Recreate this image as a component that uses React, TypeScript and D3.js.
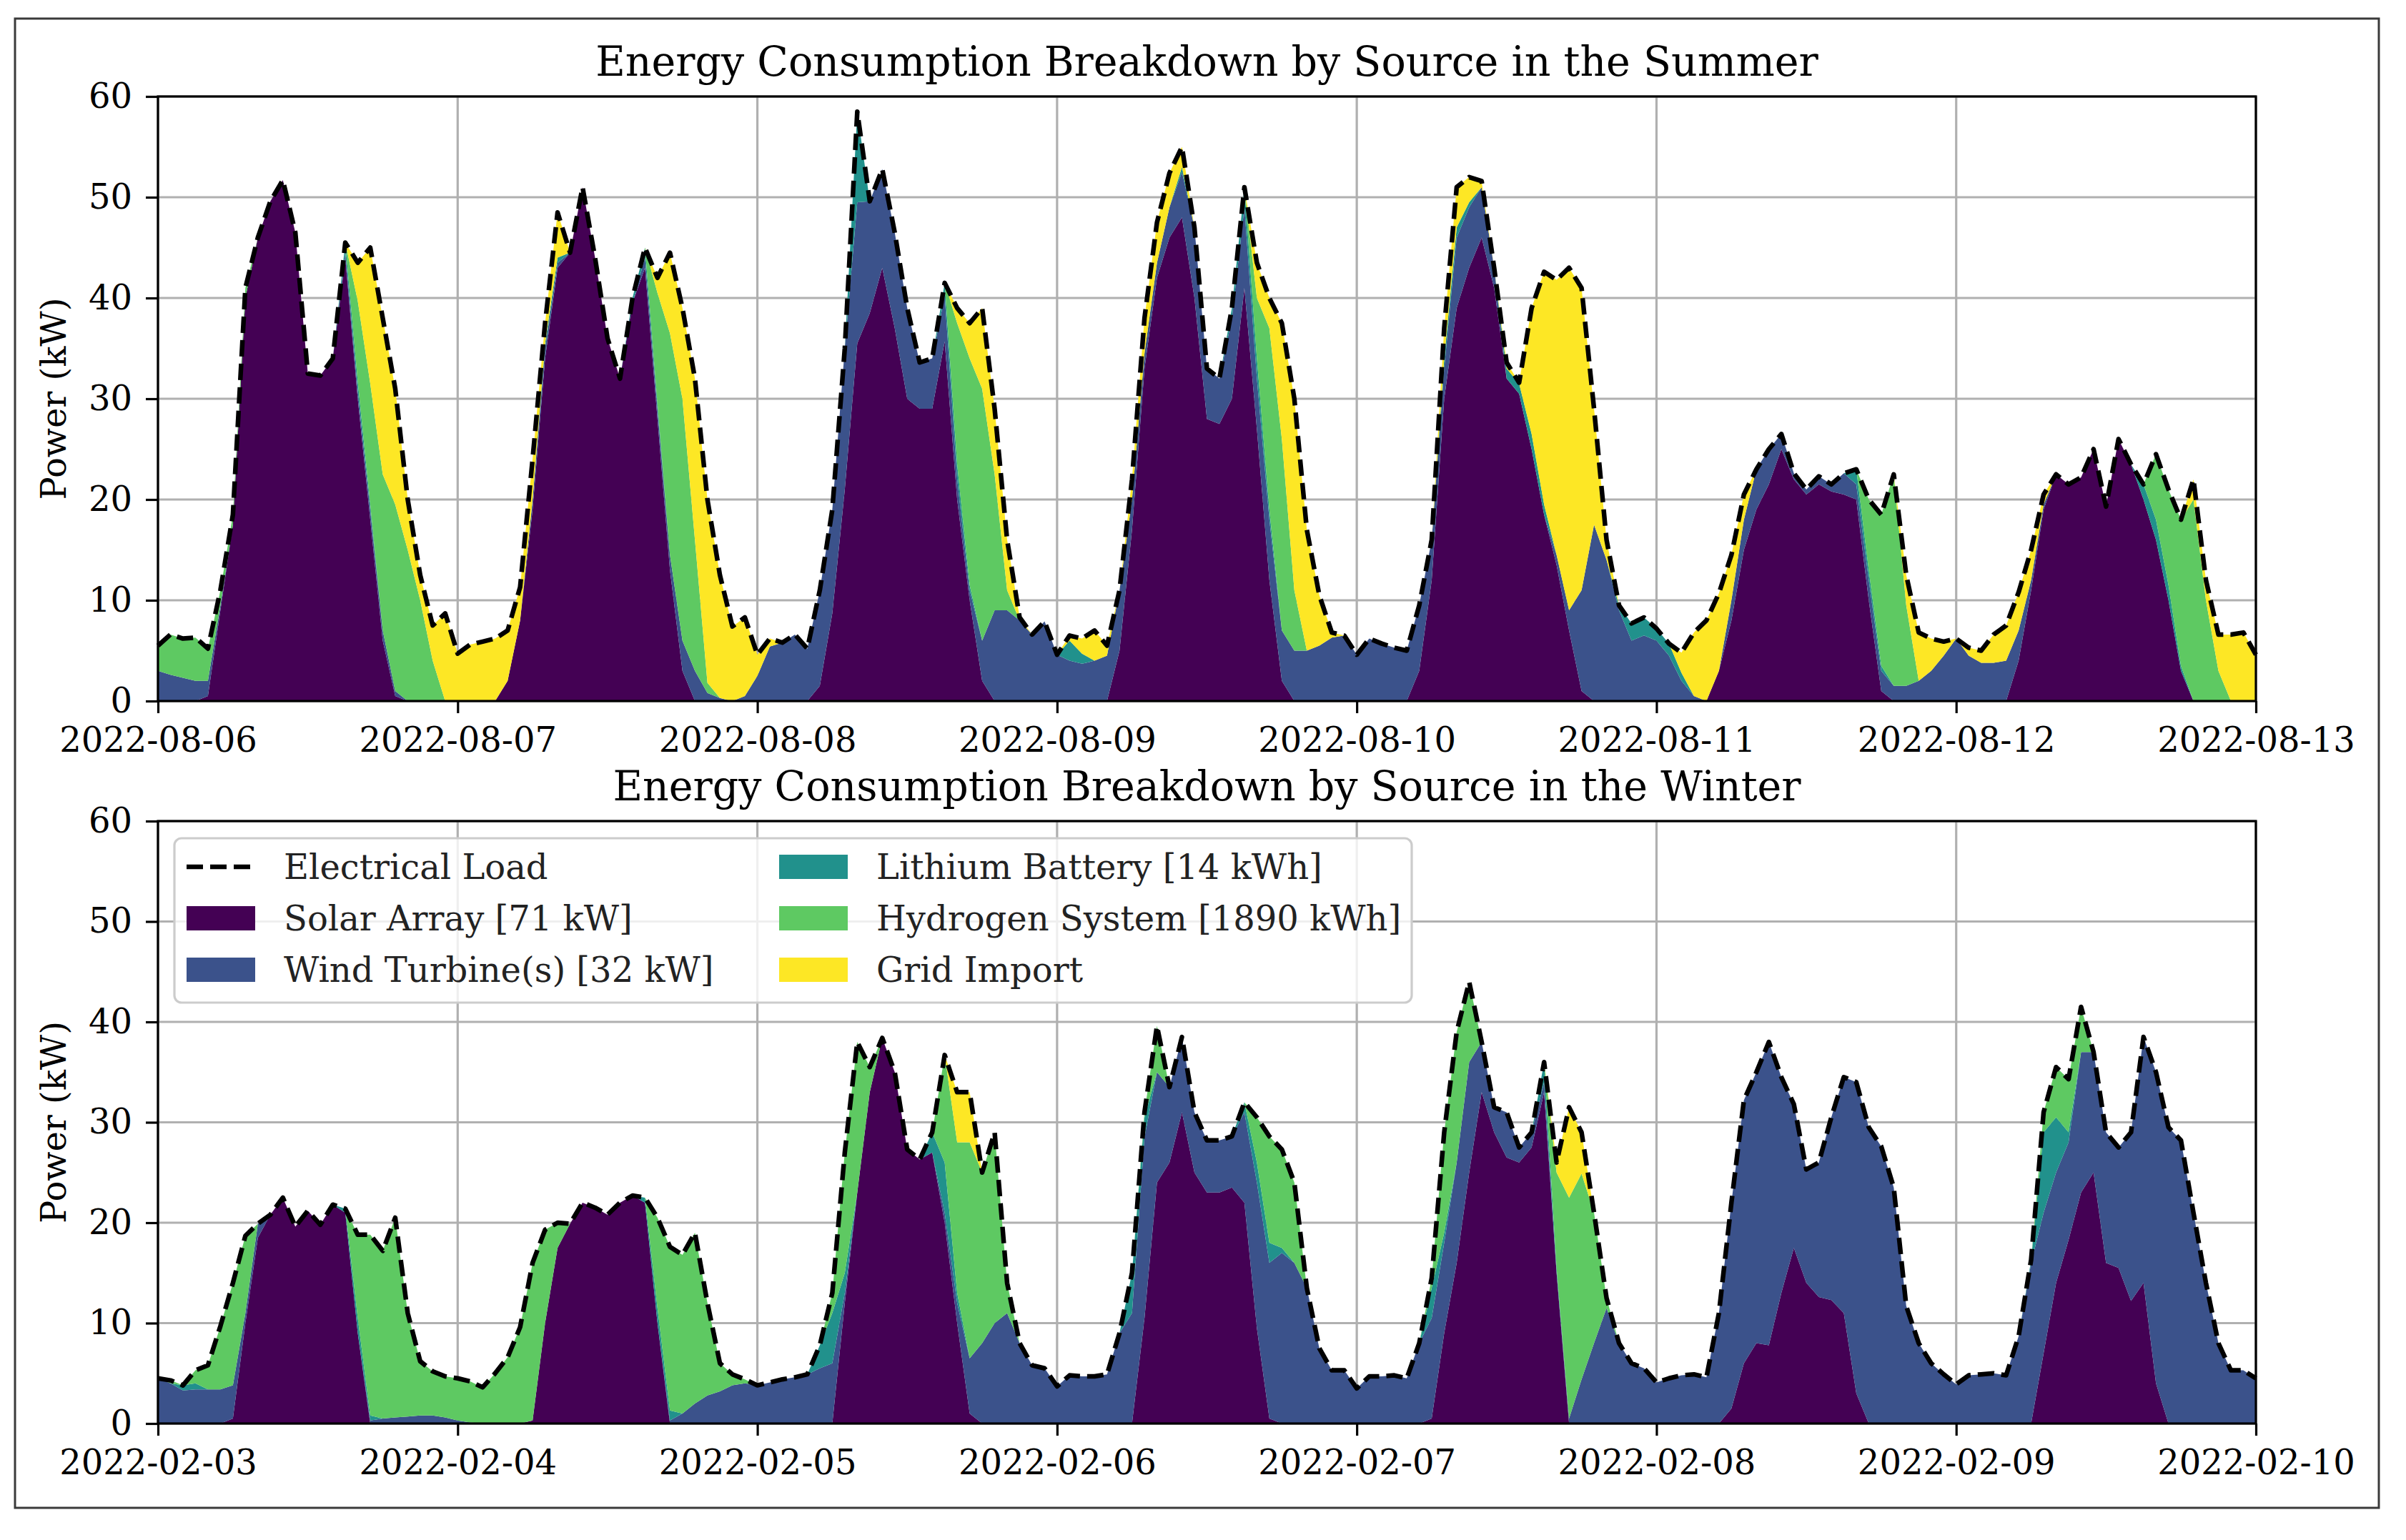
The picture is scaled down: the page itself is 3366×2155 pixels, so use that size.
import * as d3 from "d3";
import { useEffect, useRef } from "react";

// hourly values, one row per day (kW)
const seriesKeys = ["solar", "wind", "battery", "hydrogen", "grid"];
const seriesNames = [
  "Solar Array [71 kW]",
  "Wind Turbine(s) [32 kW]",
  "Lithium Battery [14 kWh]",
  "Hydrogen System [1890 kWh]",
  "Grid Import",
];
const seriesColors = ["#440154", "#3b528b", "#21918c", "#5ec962", "#fde725"];
const yTicks = [0, 10, 20, 30, 40, 50, 60];

const summerStart = "2022-08-06T00:00:00Z";
const winterStart = "2022-02-03T00:00:00Z";

const summerLoad = [
  5.5, 6.6, 6.2, 6.3, 5.2, 11, 18.5, 41, 46, 49.6, 51.7, 46.5, 32.5, 32.3, 34, 45.5, 43.5, 45, 38, 31, 20, 12.5, 7.5, 8.7,
  4.7, 5.6, 5.9, 6.2, 7, 11.3, 24, 37.5, 48.5, 44.5, 51, 44, 36, 32, 40, 45, 42, 44.5, 39, 32, 20, 12.5, 7.4, 8.3,
  4.6, 6.2, 5.8, 6.6, 5.2, 11, 19, 35, 58.5, 49.6, 52.8, 46.5, 39, 33.6, 34, 41.5, 39, 37.5, 39, 29, 16, 8.3, 6.6, 7.9,
  4.6, 6.5, 6.2, 7, 5.5, 11, 22, 38, 47.5, 52.4, 55, 47, 33, 32, 39, 51, 43.5, 40, 37.5, 30, 17, 10.5, 6.8, 6.5,
  4.6, 6.2, 5.7, 5.3, 5, 9.5, 16, 37, 51, 52, 51.6, 43, 33.6, 31.6, 39, 42.6, 41.8, 43, 41, 29, 16, 9.5, 7.7, 8.3,
  7.2, 5.7, 4.8, 6.8, 8, 10.7, 14.5, 20.5, 23, 25, 26.5, 22.6, 21, 22.3, 21.5, 22.6, 23, 20, 18.5, 22.5, 12.5, 6.8, 6.2, 5.9,
  6.2, 5.3, 5, 6.6, 7.5, 10.8, 15, 20.5, 22.5, 21.5, 22.2, 25, 19.3, 26, 23.5, 21.5, 24.5, 21, 18, 22, 12, 6.6, 6.6, 6.8, 4.6,
];
const summerSolar = [
  0, 0, 0, 0, 0.5, 9, 17.5, 40, 46, 49.6, 51.7, 46.5, 32.5, 32.3, 34, 44, 30, 18, 6, 0.5, 0, 0, 0, 0,
  0, 0, 0, 0, 2, 8, 19, 34, 43, 44.5, 51, 44, 36, 32, 39.5, 43, 28, 13, 3, 0, 0, 0, 0, 0,
  0, 0, 0, 0, 0, 1.5, 8.7, 21, 35.5, 38.5, 43, 37, 30, 29, 29, 35.7, 20, 10, 2, 0, 0, 0, 0, 0,
  0, 0, 0, 0, 0, 5, 17, 33, 42, 46, 48, 40, 28, 27.5, 30, 41, 27, 12, 2, 0, 0, 0, 0, 0,
  0, 0, 0, 0, 0, 3, 12, 30, 39, 43, 46, 41, 32, 30.5, 25, 18.5, 13.5, 7, 1, 0, 0, 0, 0, 0,
  0, 0, 0, 0, 0, 3, 8, 15, 19, 21.5, 25, 22, 20.5, 21.5, 20.8, 20.5, 20, 10, 1, 0, 0, 0, 0, 0,
  0, 0, 0, 0, 0, 4, 11, 19, 22.5, 21.5, 22.2, 25, 19.3, 26, 23.5, 20, 16, 10, 3, 0, 0, 0, 0, 0, 0,
];
const summerWind = [
  3, 2.6, 2.3, 2, 1.5, 0.5, 0, 0, 0, 0, 0, 0, 0, 0, 0, 0.5, 0.7, 1, 1, 0.5, 0, 0, 0, 0,
  0, 0, 0, 0, 0, 0, 1, 1, 0.5, 0, 0, 0, 0, 0, 0, 1, 1, 1.5, 3, 3, 0.8, 0.3, 0, 0.5,
  2.5, 5.4, 5.8, 6.6, 5.2, 9.5, 10.3, 14, 14, 11.1, 9.8, 9.5, 9, 4.6, 5, 4.5, 2, 1, 4, 9, 9, 8, 6.6, 7.9,
  4.6, 4, 3.7, 4, 4.5, 6, 3, 1.5, 1.5, 3, 4.5, 7, 5, 4.5, 8, 8, 5, 6, 5, 5, 5, 5.5, 6.3, 6.5,
  4.6, 6.2, 5.7, 5.3, 5, 6.5, 4, 3, 7, 6, 5, 2, 0, 0, 0, 0, 1, 2, 10, 17.5, 14, 9, 6, 6.5,
  6, 4.5, 2, 0.5, 0, 0, 2, 3, 4, 3.5, 1.5, 0.6, 0.5, 0.8, 0.7, 2.1, 1.5, 2, 2, 1.5, 1.5, 2, 3, 4.5,
  6.2, 4.5, 3.8, 3.8, 4, 3, 1, 0.5, 0, 0, 0, 0, 0, 0, 0, 0, 0, 0, 0, 0, 0, 0, 0, 0, 0,
];
const summerBattery = [
  0, 0, 0, 0, 0, 0, 0, 0, 0, 0, 0, 0, 0, 0, 0, 1, 1, 0.5, 0, 0, 0, 0, 0, 0,
  0, 0, 0, 0, 0, 0, 0, 0.5, 0.5, 0, 0, 0, 0, 0, 0.5, 1, 0.5, 0, 0, 0, 0, 0, 0, 0,
  0, 0, 0, 0, 0, 0, 0, 0, 9, 0, 0, 0, 0, 0, 0, 1.3, 1.5, 0.5, 0, 0, 0, 0, 0, 0,
  0, 2, 1, 0, 0, 0, 0, 0, 0, 0, 0.5, 0, 0, 0, 1, 2, 2, 1, 0, 0, 0, 0, 0, 0,
  0, 0, 0, 0, 0, 0, 0, 1, 1, 0.5, 0, 0, 1, 1, 1.5, 1, 0, 0, 0, 0, 0, 0.5, 1.7, 1.8,
  1.2, 1.2, 0.8, 0, 0, 0, 0, 0, 0, 0, 0, 0, 0, 0, 0, 0, 1.5, 1, 0.5, 0, 0, 0, 0, 0,
  0, 0, 0, 0, 0, 0, 0, 0, 0, 0, 0, 0, 0, 0, 0, 1.5, 2, 1.5, 0.5, 0, 0, 0, 0, 0, 0,
];
const summerHydrogen = [
  2.5, 4, 3.9, 4.3, 3.2, 1.5, 1, 1, 0, 0, 0, 0, 0, 0, 0, 0, 8, 12, 15.5, 18.5, 15, 10, 4, 0,
  0, 0, 0, 0, 0, 0, 0, 0, 0, 0, 0, 0, 0, 0, 0, 0, 11, 22, 24, 13, 1, 0, 0, 0,
  0, 0, 0, 0, 0, 0, 0, 0, 0, 0, 0, 0, 0, 0, 0, 0, 14, 22.5, 25, 13.5, 2, 0, 0, 0,
  0, 0, 0, 0, 0, 0, 0, 0, 0, 0, 0, 0, 0, 0, 0, 0, 6, 18, 19, 6, 0, 0, 0, 0,
  0, 0, 0, 0, 0, 0, 0, 0, 0, 0, 0, 0, 0, 0, 0, 0, 0, 0, 0, 0, 0, 0, 0, 0,
  0, 0, 0, 0, 0, 0, 0, 0, 0, 0, 0, 0, 0, 0, 0, 0, 0, 7, 15, 21, 8, 0, 0, 0,
  0, 0, 0, 0, 0, 0, 0, 0, 0, 0, 0, 0, 0, 0, 0, 0, 6.5, 9.5, 14.5, 20, 10, 3, 0, 0, 0,
];
const summerGrid = [
  0, 0, 0, 0, 0, 0, 0, 0, 0, 0, 0, 0, 0, 0, 0, 0, 3.8, 13.5, 15.5, 11.5, 5, 2.5, 3.5, 8.7,
  4.7, 5.6, 5.9, 6.2, 5, 3.3, 4, 2, 4.5, 0, 0, 0, 0, 0, 0, 0, 1.5, 8, 9, 16, 18.2, 12.2, 7.4, 7.8,
  2.1, 0.8, 0, 0, 0, 0, 0, 0, 0, 0, 0, 0, 0, 0, 0, 0, 1.5, 3.5, 8, 6.5, 5, 0.3, 0, 0,
  0, 0.5, 1.5, 3, 1, 0, 2, 3.5, 4, 3.4, 2, 0, 0, 0, 0, 0, 3.5, 3, 11.5, 19, 12, 5, 0.5, 0,
  0, 0, 0, 0, 0, 0, 0, 3, 4, 2.5, 0.6, 0, 0.6, 0.1, 12.5, 23.1, 27.3, 34, 30, 11.5, 2, 0, 0, 0,
  0, 0, 2, 6.3, 8, 7.7, 4.5, 2.5, 0, 0, 0, 0, 0, 0, 0, 0, 0, 0, 0, 0, 3, 4.8, 3.2, 1.4,
  0, 0.8, 1.2, 2.8, 3.5, 3.8, 3, 1, 0, 0, 0, 0, 0, 0, 0, 0, 0, 0, 0, 2, 2, 3.6, 6.6, 6.8, 4.6,
];

const winterLoad = [
  4.5, 4.3, 3.8, 5.3, 5.8, 9.7, 14, 18.7, 19.9, 20.8, 22.5, 19.6, 21.2, 19.8, 21.8, 21.4, 18.8, 18.8, 17.2, 20.5, 11, 6.2, 5.2, 4.7,
  4.5, 4.2, 3.6, 5, 6.6, 9.6, 16, 19.3, 20, 19.9, 22, 21.5, 20.8, 22, 22.7, 22.5, 20.5, 17.6, 16.8, 19, 12, 6, 4.9, 4.4,
  3.8, 4.1, 4.4, 4.6, 4.9, 7.8, 13, 27, 38, 35.5, 38.4, 35, 27.3, 26.3, 29, 36.7, 33, 33, 25, 29, 14, 8, 5.8, 5.5,
  3.7, 4.8, 4.7, 4.7, 4.9, 9, 15, 31, 39.6, 33.5, 38.5, 31, 28.2, 28.2, 28.6, 32, 30.5, 28.6, 27.3, 24, 13.5, 7.5, 5.3, 5.3,
  3.5, 4.7, 4.7, 4.8, 4.5, 8, 14.5, 29, 39, 44, 38, 31.5, 31, 27.5, 29, 36, 26, 31.5, 29, 21, 12.5, 8, 6, 5.5,
  4.1, 4.5, 4.8, 4.9, 4.6, 11, 22, 32.2, 35, 38, 34.5, 31.8, 25.3, 26, 30.5, 34.5, 34, 29.5, 27.6, 23.5, 11.7, 8, 6, 4.9,
  3.9, 4.8, 4.9, 5, 4.8, 8.7, 16.3, 31, 35.5, 34.3, 41.5, 37, 29, 27.5, 29, 38.5, 35, 29.5, 28.2, 21, 14, 8, 5.3, 5.3, 4.5,
];
const winterSolar = [
  0, 0, 0, 0, 0, 0, 0.5, 10, 18.5, 20.8, 22.5, 19.6, 21.2, 19.8, 21.8, 21, 9, 0, 0, 0, 0, 0, 0, 0,
  0, 0, 0, 0, 0, 0, 0.3, 10, 17.5, 19.9, 22, 21.5, 20.8, 22, 22.7, 22, 10, 0, 0, 0, 0, 0, 0, 0,
  0, 0, 0, 0, 0, 0, 0, 12, 23, 33, 38.4, 35, 27.3, 26.3, 27, 20, 10, 1, 0, 0, 0, 0, 0, 0,
  0, 0, 0, 0, 0, 0, 0, 10.5, 24, 26, 31, 25, 23, 23, 23.5, 22, 9.5, 0.5, 0, 0, 0, 0, 0, 0,
  0, 0, 0, 0, 0, 0, 0.5, 9, 16, 25, 33, 29, 26.5, 26, 27.5, 33, 15, 0, 0, 0, 0, 0, 0, 0,
  0, 0, 0, 0, 0, 0, 1.5, 6, 8, 7.8, 13, 17.5, 14, 12.6, 12.3, 11, 3, 0, 0, 0, 0, 0, 0, 0,
  0, 0, 0, 0, 0, 0, 0, 7, 14, 18.3, 23, 25, 16, 15.5, 12.2, 14, 4, 0, 0, 0, 0, 0, 0, 0, 0,
];
const winterWind = [
  4.5, 4, 3.3, 3.4, 3.4, 3.4, 3.3, 1, 1.4, 0, 0, 0, 0, 0, 0, 0, 0, 0.3, 0.5, 0.6, 0.7, 0.8, 0.8, 0.6,
  0.3, 0.1, 0, 0, 0, 0, 0, 0, 0, 0, 0, 0, 0, 0, 0, 0, 0, 0.3, 1, 2, 2.8, 3.2, 3.8, 4,
  3.8, 4.1, 4.4, 4.6, 4.9, 5.5, 6, 1, 0, 0, 0, 0, 0, 0, 0, 1, 2, 5.5, 8, 10, 11, 8, 5.8, 5.5,
  3.7, 4.8, 4.7, 4.7, 4.9, 9, 11, 18, 11, 7.5, 7.5, 6, 5.2, 5.2, 5.1, 9, 14.5, 15.5, 17, 16, 13.5, 7.5, 5.3, 5.3,
  3.5, 4.7, 4.7, 4.8, 4.5, 8, 10, 9, 10, 11, 5, 2.5, 4.5, 1.5, 1.5, 1, 0, 0.5, 4.4, 8, 11.5, 8, 6, 5.5,
  4.1, 4.5, 4.8, 4.9, 4.6, 11, 20.5, 26.2, 27, 30.2, 21.5, 14.3, 11.3, 13.4, 18.2, 23.5, 31, 29.5, 27.6, 23.5, 11.7, 8, 6, 4.9,
  3.9, 4.8, 4.9, 5, 4.8, 8.7, 16, 14, 11, 9.7, 14, 12, 13, 12, 16.8, 24.5, 31, 29.5, 28.2, 21, 14, 8, 5.3, 5.3, 4.5,
];
const winterBattery = [
  0, 0, 0.5, 0.6, 0, 0, 0, 0, 0, 0, 0, 0, 0, 0, 0, 0.4, 1.5, 0.5, 0, 0, 0, 0, 0, 0,
  0, 0, 0, 0, 0, 0, 0, 0, 0, 0, 0, 0, 0, 0, 0, 0.5, 1.5, 1, 0, 0, 0, 0, 0, 0,
  0, 0, 0, 0, 0, 2.3, 5, 2, 0, 0, 0, 0, 0, 0, 2, 5, 1, 0, 0, 0, 0, 0, 0, 0,
  0, 0, 0, 0, 0, 0, 4, 2, 0, 0, 0, 0, 0, 0, 0, 1, 2, 2, 0.5, 0, 0, 0, 0, 0,
  0, 0, 0, 0, 0, 0, 3, 1, 0, 0, 0, 0, 0, 0, 0, 2, 0.5, 0, 0, 0, 0, 0, 0, 0,
  0, 0, 0, 0, 0, 0, 0, 0, 0, 0, 0, 0, 0, 0, 0, 0, 0, 0, 0, 0, 0, 0, 0, 0,
  0, 0, 0, 0, 0, 0, 0.3, 8, 5.5, 1, 0, 0, 0, 0, 0, 0, 0, 0, 0, 0, 0, 0, 0, 0, 0,
];
const winterHydrogen = [
  0, 0.3, 0, 1.3, 2.4, 6.3, 10.2, 7.7, 0, 0, 0, 0, 0, 0, 0, 0, 8.3, 18, 16.7, 19.9, 10.3, 5.4, 4.4, 4.1,
  4.2, 4.1, 3.6, 5, 6.6, 9.6, 15.7, 9.3, 2.5, 0, 0, 0, 0, 0, 0, 0, 9, 16.3, 15.8, 17, 9.2, 2.8, 1.1, 0.4,
  0, 0, 0, 0, 0, 0, 2, 12, 15, 2.5, 0, 0, 0, 0, 0, 10.7, 15, 21.5, 17, 19, 3, 0, 0, 0,
  0, 0, 0, 0, 0, 0, 0, 0.5, 4.6, 0, 0, 0, 0, 0, 0, 0, 4.5, 10.6, 9.8, 8, 0, 0, 0, 0,
  0, 0, 0, 0, 0, 0, 1, 10, 13, 8, 0, 0, 0, 0, 0, 0, 9.5, 22, 20.5, 13, 1, 0, 0, 0,
  0, 0, 0, 0, 0, 0, 0, 0, 0, 0, 0, 0, 0, 0, 0, 0, 0, 0, 0, 0, 0, 0, 0, 0,
  0, 0, 0, 0, 0, 0, 0, 2, 5, 5.3, 4.5, 0, 0, 0, 0, 0, 0, 0, 0, 0, 0, 0, 0, 0, 0,
];
const winterGrid = [
  0, 0, 0, 0, 0, 0, 0, 0, 0, 0, 0, 0, 0, 0, 0, 0, 0, 0, 0, 0, 0, 0, 0, 0,
  0, 0, 0, 0, 0, 0, 0, 0, 0, 0, 0, 0, 0, 0, 0, 0, 0, 0, 0, 0, 0, 0, 0, 0,
  0, 0, 0, 0, 0, 0, 0, 0, 0, 0, 0, 0, 0, 0, 0, 0, 5, 5, 0, 0, 0, 0, 0, 0,
  0, 0, 0, 0, 0, 0, 0, 0, 0, 0, 0, 0, 0, 0, 0, 0, 0, 0, 0, 0, 0, 0, 0, 0,
  0, 0, 0, 0, 0, 0, 0, 0, 0, 0, 0, 0, 0, 0, 0, 0, 1, 9, 4.1, 0, 0, 0, 0, 0,
  0, 0, 0, 0, 0, 0, 0, 0, 0, 0, 0, 0, 0, 0, 0, 0, 0, 0, 0, 0, 0, 0, 0, 0,
  0, 0, 0, 0, 0, 0, 0, 0, 0, 0, 0, 0, 0, 0, 0, 0, 0, 0, 0, 0, 0, 0, 0, 0, 0,
];

const W = 3366;
const H = 2155;
const LEFT = 221;
const RIGHT = 3156;
const FONT = "'DejaVu Serif', serif";
const HOUR = 3600 * 1000;

type Panel = {
  top: number;
  bottom: number;
  start: string;
  title: string;
  load: number[];
  parts: number[][];
  legend: boolean;
};

function drawPanel(svg: d3.Selection<SVGSVGElement, unknown, null, undefined>, p: Panel) {
  const t0 = new Date(p.start);
  const n = p.load.length;
  const t1 = new Date(t0.getTime() + (n - 1) * HOUR);

  const rows = d3.range(n).map((i) => {
    const r: any = { date: new Date(t0.getTime() + i * HOUR) };
    seriesKeys.forEach((k, j) => (r[k] = p.parts[j][i]));
    return r;
  });

  const x = d3.scaleUtc().domain([t0, t1]).range([LEFT, RIGHT]);
  const y = d3.scaleLinear().domain([0, 60]).range([p.bottom, p.top]);
  const days = d3.utcDay.range(t0, new Date(t1.getTime() + 1));

  const g = svg.append("g");

  // grid
  g.append("g")
    .selectAll("line")
    .data(days)
    .join("line")
    .attr("x1", (d) => x(d))
    .attr("x2", (d) => x(d))
    .attr("y1", p.top)
    .attr("y2", p.bottom)
    .attr("stroke", "#b0b0b0")
    .attr("stroke-width", 3.2);
  g.append("g")
    .selectAll("line")
    .data(yTicks)
    .join("line")
    .attr("x1", LEFT)
    .attr("x2", RIGHT)
    .attr("y1", (d) => y(d))
    .attr("y2", (d) => y(d))
    .attr("stroke", "#b0b0b0")
    .attr("stroke-width", 3.2);

  // stacked sources
  const stacked = d3.stack<any>().keys(seriesKeys)(rows);
  const area = d3
    .area<any>()
    .x((d) => x(d.data.date))
    .y0((d) => y(d[0]))
    .y1((d) => y(d[1]));
  g.append("g")
    .selectAll("path")
    .data(stacked)
    .join("path")
    .attr("fill", (_, i) => seriesColors[i])
    .attr("d", area);

  // load
  const line = d3
    .line<number>()
    .x((_, i) => x(rows[i].date))
    .y((d) => y(d));
  g.append("path")
    .datum(p.load)
    .attr("fill", "none")
    .attr("stroke", "#000")
    .attr("stroke-width", 6.5)
    .attr("stroke-dasharray", "23 10")
    .attr("stroke-linejoin", "round")
    .attr("d", line);

  // spines
  g.append("rect")
    .attr("x", LEFT)
    .attr("y", p.top)
    .attr("width", RIGHT - LEFT)
    .attr("height", p.bottom - p.top)
    .attr("fill", "none")
    .attr("stroke", "#000")
    .attr("stroke-width", 3.2);

  // axes
  const xa = g
    .append("g")
    .attr("transform", `translate(0,${p.bottom})`)
    .call(
      d3
        .axisBottom(x)
        .tickValues(days)
        .tickFormat((d) => d3.utcFormat("%Y-%m-%d")(d as Date))
        .tickSize(17)
        .tickPadding(20)
    );
  xa.select(".domain").remove();
  xa.selectAll("line").attr("stroke", "#000").attr("stroke-width", 3.2);
  xa.selectAll("text").attr("font-size", 48).attr("font-family", FONT).attr("fill", "#000");

  const ya = g
    .append("g")
    .attr("transform", `translate(${LEFT},0)`)
    .call(d3.axisLeft(y).tickValues(yTicks).tickFormat(d3.format("d")).tickSize(17).tickPadding(19));
  ya.select(".domain").remove();
  ya.selectAll("line").attr("stroke", "#000").attr("stroke-width", 3.2);
  ya.selectAll("text").attr("font-size", 48).attr("font-family", FONT).attr("fill", "#000");

  // labels
  g.append("text")
    .attr("x", (LEFT + RIGHT) / 2)
    .attr("y", p.top - 29)
    .attr("text-anchor", "middle")
    .attr("font-size", 57)
    .attr("font-family", FONT)
    .text(p.title);
  g.append("text")
    .attr("transform", `translate(92,${(p.top + p.bottom) / 2}) rotate(-90)`)
    .attr("text-anchor", "middle")
    .attr("font-size", 48)
    .attr("font-family", FONT)
    .text("Power (kW)");

  if (p.legend) {
    const lg = g.append("g");
    lg.append("rect")
      .attr("x", 244)
      .attr("y", p.top + 24)
      .attr("width", 1731)
      .attr("height", 230)
      .attr("rx", 10)
      .attr("fill", "#fff")
      .attr("fill-opacity", 0.8)
      .attr("stroke", "#cccccc")
      .attr("stroke-width", 3.2);
    const entries = [{ name: "Electrical Load", color: "" }].concat(
      seriesNames.map((s, i) => ({ name: s, color: seriesColors[i] }))
    );
    entries.forEach((e, i) => {
      const col = Math.floor(i / 3);
      const row = i % 3;
      const hx = col === 0 ? 261 : 1090;
      const base = p.top + 81 + row * 72;
      if (e.color) {
        lg.append("rect")
          .attr("x", hx)
          .attr("y", base - 34)
          .attr("width", 96)
          .attr("height", 34)
          .attr("fill", e.color);
      } else {
        lg.append("line")
          .attr("x1", hx)
          .attr("x2", hx + 96)
          .attr("y1", base - 17)
          .attr("y2", base - 17)
          .attr("stroke", "#000")
          .attr("stroke-width", 6.5)
          .attr("stroke-dasharray", "23 10");
      }
      lg.append("text")
        .attr("x", hx + 136)
        .attr("y", base)
        .attr("font-size", 48)
        .attr("font-family", FONT)
        .attr("fill", "#222")
        .text(e.name);
    });
  }
}

export default function App() {
  const svgRef = useRef<SVGSVGElement | null>(null);

  useEffect(() => {
    const svg = d3.select(svgRef.current!);
    svg.selectAll("*").remove();

    svg.append("rect").attr("width", W).attr("height", H).attr("fill", "#fff");
    svg.append("rect")
      .attr("x", 21)
      .attr("y", 26)
      .attr("width", 3307)
      .attr("height", 2084)
      .attr("fill", "none")
      .attr("stroke", "#3a3a3a")
      .attr("stroke-width", 3);

    drawPanel(svg, {
      top: 135,
      bottom: 981,
      start: summerStart,
      title: "Energy Consumption Breakdown by Source in the Summer",
      load: summerLoad,
      parts: [summerSolar, summerWind, summerBattery, summerHydrogen, summerGrid],
      legend: false,
    });
    drawPanel(svg, {
      top: 1149,
      bottom: 1992,
      start: winterStart,
      title: "Energy Consumption Breakdown by Source in the Winter",
      load: winterLoad,
      parts: [winterSolar, winterWind, winterBattery, winterHydrogen, winterGrid],
      legend: true,
    });
  }, []);

  return (
    <svg
      ref={svgRef}
      width={W}
      height={H}
      style={{ position: "absolute", left: 0, top: 0, display: "block" }}
    ></svg>
  );
}
